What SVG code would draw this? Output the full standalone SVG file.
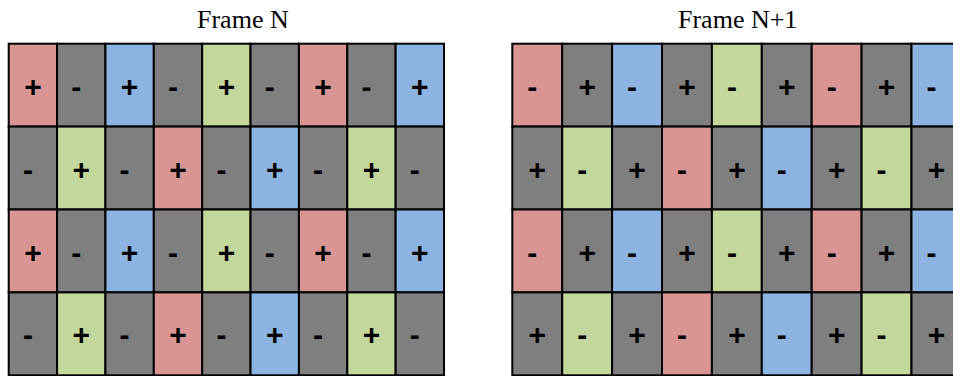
<svg xmlns="http://www.w3.org/2000/svg" width="953" height="376" viewBox="0 0 953 376">
<style>
.c rect{stroke:#000;stroke-width:2}
.r{fill:#D99594}.k{fill:#7F7F7F}.b{fill:#8DB3E2}.g{fill:#C3D69B}
.s{font-family:"Liberation Sans",Arial,sans-serif;font-size:30px;font-weight:bold;fill:#000;text-anchor:middle}
.t{font-family:"Liberation Serif","Times New Roman",serif;font-size:26px;fill:#000}
</style>
<rect width="953" height="376" fill="#fff"/>
<text id="title-n" class="t" x="197" y="28">Frame N</text>
<text id="title-n1" class="t" x="678" y="28">Frame N+1</text>
<g id="frame-n">
<g id="L11" class="c"><rect class="r" x="8.7" y="43.7" width="48.37" height="82.9"/><text class="s" x="32.9" y="96.7">+</text></g>
<g id="L12" class="c"><rect class="k" x="57.07" y="43.7" width="48.37" height="82.9"/><text class="s" x="76.3" y="96.7">-</text></g>
<g id="L13" class="c"><rect class="b" x="105.44" y="43.7" width="48.37" height="82.9"/><text class="s" x="129.6" y="96.7">+</text></g>
<g id="L14" class="c"><rect class="k" x="153.81" y="43.7" width="48.37" height="82.9"/><text class="s" x="173" y="96.7">-</text></g>
<g id="L15" class="c"><rect class="g" x="202.18" y="43.7" width="48.37" height="82.9"/><text class="s" x="226.4" y="96.7">+</text></g>
<g id="L16" class="c"><rect class="k" x="250.55" y="43.7" width="48.37" height="82.9"/><text class="s" x="269.7" y="96.7">-</text></g>
<g id="L17" class="c"><rect class="r" x="298.92" y="43.7" width="48.37" height="82.9"/><text class="s" x="323.1" y="96.7">+</text></g>
<g id="L18" class="c"><rect class="k" x="347.29" y="43.7" width="48.37" height="82.9"/><text class="s" x="366.5" y="96.7">-</text></g>
<g id="L19" class="c"><rect class="b" x="395.66" y="43.7" width="48.37" height="82.9"/><text class="s" x="419.8" y="96.7">+</text></g>

<g id="L21" class="c"><rect class="k" x="8.7" y="126.6" width="48.37" height="82.9"/><text class="s" x="27.9" y="179.6">-</text></g>
<g id="L22" class="c"><rect class="g" x="57.07" y="126.6" width="48.37" height="82.9"/><text class="s" x="81.3" y="179.6">+</text></g>
<g id="L23" class="c"><rect class="k" x="105.44" y="126.6" width="48.37" height="82.9"/><text class="s" x="124.6" y="179.6">-</text></g>
<g id="L24" class="c"><rect class="r" x="153.81" y="126.6" width="48.37" height="82.9"/><text class="s" x="178" y="179.6">+</text></g>
<g id="L25" class="c"><rect class="k" x="202.18" y="126.6" width="48.37" height="82.9"/><text class="s" x="221.4" y="179.6">-</text></g>
<g id="L26" class="c"><rect class="b" x="250.55" y="126.6" width="48.37" height="82.9"/><text class="s" x="274.7" y="179.6">+</text></g>
<g id="L27" class="c"><rect class="k" x="298.92" y="126.6" width="48.37" height="82.9"/><text class="s" x="318.1" y="179.6">-</text></g>
<g id="L28" class="c"><rect class="g" x="347.29" y="126.6" width="48.37" height="82.9"/><text class="s" x="371.5" y="179.6">+</text></g>
<g id="L29" class="c"><rect class="k" x="395.66" y="126.6" width="48.37" height="82.9"/><text class="s" x="414.8" y="179.6">-</text></g>

<g id="L31" class="c"><rect class="r" x="8.7" y="209.5" width="48.37" height="82.9"/><text class="s" x="32.9" y="262.5">+</text></g>
<g id="L32" class="c"><rect class="k" x="57.07" y="209.5" width="48.37" height="82.9"/><text class="s" x="76.3" y="262.5">-</text></g>
<g id="L33" class="c"><rect class="b" x="105.44" y="209.5" width="48.37" height="82.9"/><text class="s" x="129.6" y="262.5">+</text></g>
<g id="L34" class="c"><rect class="k" x="153.81" y="209.5" width="48.37" height="82.9"/><text class="s" x="173" y="262.5">-</text></g>
<g id="L35" class="c"><rect class="g" x="202.18" y="209.5" width="48.37" height="82.9"/><text class="s" x="226.4" y="262.5">+</text></g>
<g id="L36" class="c"><rect class="k" x="250.55" y="209.5" width="48.37" height="82.9"/><text class="s" x="269.7" y="262.5">-</text></g>
<g id="L37" class="c"><rect class="r" x="298.92" y="209.5" width="48.37" height="82.9"/><text class="s" x="323.1" y="262.5">+</text></g>
<g id="L38" class="c"><rect class="k" x="347.29" y="209.5" width="48.37" height="82.9"/><text class="s" x="366.5" y="262.5">-</text></g>
<g id="L39" class="c"><rect class="b" x="395.66" y="209.5" width="48.37" height="82.9"/><text class="s" x="419.8" y="262.5">+</text></g>

<g id="L41" class="c"><rect class="k" x="8.7" y="292.4" width="48.37" height="82.9"/><text class="s" x="27.9" y="345.4">-</text></g>
<g id="L42" class="c"><rect class="g" x="57.07" y="292.4" width="48.37" height="82.9"/><text class="s" x="81.3" y="345.4">+</text></g>
<g id="L43" class="c"><rect class="k" x="105.44" y="292.4" width="48.37" height="82.9"/><text class="s" x="124.6" y="345.4">-</text></g>
<g id="L44" class="c"><rect class="r" x="153.81" y="292.4" width="48.37" height="82.9"/><text class="s" x="178" y="345.4">+</text></g>
<g id="L45" class="c"><rect class="k" x="202.18" y="292.4" width="48.37" height="82.9"/><text class="s" x="221.4" y="345.4">-</text></g>
<g id="L46" class="c"><rect class="b" x="250.55" y="292.4" width="48.37" height="82.9"/><text class="s" x="274.7" y="345.4">+</text></g>
<g id="L47" class="c"><rect class="k" x="298.92" y="292.4" width="48.37" height="82.9"/><text class="s" x="318.1" y="345.4">-</text></g>
<g id="L48" class="c"><rect class="g" x="347.29" y="292.4" width="48.37" height="82.9"/><text class="s" x="371.5" y="345.4">+</text></g>
<g id="L49" class="c"><rect class="k" x="395.66" y="292.4" width="48.37" height="82.9"/><text class="s" x="414.8" y="345.4">-</text></g>
</g>
<g id="frame-n1">
<g id="R11" class="c"><rect class="r" x="512.3" y="43.7" width="49.9" height="82.9"/><text class="s" x="532.3" y="96.7">-</text></g>
<g id="R12" class="c"><rect class="k" x="562.2" y="43.7" width="49.9" height="82.9"/><text class="s" x="587.2" y="96.7">+</text></g>
<g id="R13" class="c"><rect class="b" x="612.1" y="43.7" width="49.9" height="82.9"/><text class="s" x="632.1" y="96.7">-</text></g>
<g id="R14" class="c"><rect class="k" x="662" y="43.7" width="49.9" height="82.9"/><text class="s" x="687" y="96.7">+</text></g>
<g id="R15" class="c"><rect class="g" x="711.9" y="43.7" width="49.9" height="82.9"/><text class="s" x="731.9" y="96.7">-</text></g>
<g id="R16" class="c"><rect class="k" x="761.8" y="43.7" width="49.9" height="82.9"/><text class="s" x="786.8" y="96.7">+</text></g>
<g id="R17" class="c"><rect class="r" x="811.7" y="43.7" width="49.9" height="82.9"/><text class="s" x="831.7" y="96.7">-</text></g>
<g id="R18" class="c"><rect class="k" x="861.6" y="43.7" width="49.9" height="82.9"/><text class="s" x="886.6" y="96.7">+</text></g>
<g id="R19" class="c"><rect class="b" x="911.5" y="43.7" width="49.9" height="82.9"/><text class="s" x="931.5" y="96.7">-</text></g>

<g id="R21" class="c"><rect class="k" x="512.3" y="126.6" width="49.9" height="82.9"/><text class="s" x="537.3" y="179.6">+</text></g>
<g id="R22" class="c"><rect class="g" x="562.2" y="126.6" width="49.9" height="82.9"/><text class="s" x="582.2" y="179.6">-</text></g>
<g id="R23" class="c"><rect class="k" x="612.1" y="126.6" width="49.9" height="82.9"/><text class="s" x="637.1" y="179.6">+</text></g>
<g id="R24" class="c"><rect class="r" x="662" y="126.6" width="49.9" height="82.9"/><text class="s" x="682" y="179.6">-</text></g>
<g id="R25" class="c"><rect class="k" x="711.9" y="126.6" width="49.9" height="82.9"/><text class="s" x="736.9" y="179.6">+</text></g>
<g id="R26" class="c"><rect class="b" x="761.8" y="126.6" width="49.9" height="82.9"/><text class="s" x="781.8" y="179.6">-</text></g>
<g id="R27" class="c"><rect class="k" x="811.7" y="126.6" width="49.9" height="82.9"/><text class="s" x="836.7" y="179.6">+</text></g>
<g id="R28" class="c"><rect class="g" x="861.6" y="126.6" width="49.9" height="82.9"/><text class="s" x="881.6" y="179.6">-</text></g>
<g id="R29" class="c"><rect class="k" x="911.5" y="126.6" width="49.9" height="82.9"/><text class="s" x="936.5" y="179.6">+</text></g>

<g id="R31" class="c"><rect class="r" x="512.3" y="209.5" width="49.9" height="82.9"/><text class="s" x="532.3" y="262.5">-</text></g>
<g id="R32" class="c"><rect class="k" x="562.2" y="209.5" width="49.9" height="82.9"/><text class="s" x="587.2" y="262.5">+</text></g>
<g id="R33" class="c"><rect class="b" x="612.1" y="209.5" width="49.9" height="82.9"/><text class="s" x="632.1" y="262.5">-</text></g>
<g id="R34" class="c"><rect class="k" x="662" y="209.5" width="49.9" height="82.9"/><text class="s" x="687" y="262.5">+</text></g>
<g id="R35" class="c"><rect class="g" x="711.9" y="209.5" width="49.9" height="82.9"/><text class="s" x="731.9" y="262.5">-</text></g>
<g id="R36" class="c"><rect class="k" x="761.8" y="209.5" width="49.9" height="82.9"/><text class="s" x="786.8" y="262.5">+</text></g>
<g id="R37" class="c"><rect class="r" x="811.7" y="209.5" width="49.9" height="82.9"/><text class="s" x="831.7" y="262.5">-</text></g>
<g id="R38" class="c"><rect class="k" x="861.6" y="209.5" width="49.9" height="82.9"/><text class="s" x="886.6" y="262.5">+</text></g>
<g id="R39" class="c"><rect class="b" x="911.5" y="209.5" width="49.9" height="82.9"/><text class="s" x="931.5" y="262.5">-</text></g>

<g id="R41" class="c"><rect class="k" x="512.3" y="292.4" width="49.9" height="82.9"/><text class="s" x="537.3" y="345.4">+</text></g>
<g id="R42" class="c"><rect class="g" x="562.2" y="292.4" width="49.9" height="82.9"/><text class="s" x="582.2" y="345.4">-</text></g>
<g id="R43" class="c"><rect class="k" x="612.1" y="292.4" width="49.9" height="82.9"/><text class="s" x="637.1" y="345.4">+</text></g>
<g id="R44" class="c"><rect class="r" x="662" y="292.4" width="49.9" height="82.9"/><text class="s" x="682" y="345.4">-</text></g>
<g id="R45" class="c"><rect class="k" x="711.9" y="292.4" width="49.9" height="82.9"/><text class="s" x="736.9" y="345.4">+</text></g>
<g id="R46" class="c"><rect class="b" x="761.8" y="292.4" width="49.9" height="82.9"/><text class="s" x="781.8" y="345.4">-</text></g>
<g id="R47" class="c"><rect class="k" x="811.7" y="292.4" width="49.9" height="82.9"/><text class="s" x="836.7" y="345.4">+</text></g>
<g id="R48" class="c"><rect class="g" x="861.6" y="292.4" width="49.9" height="82.9"/><text class="s" x="881.6" y="345.4">-</text></g>
<g id="R49" class="c"><rect class="k" x="911.5" y="292.4" width="49.9" height="82.9"/><text class="s" x="936.5" y="345.4">+</text></g>
</g>
<g id="connectors"/>
</svg>
